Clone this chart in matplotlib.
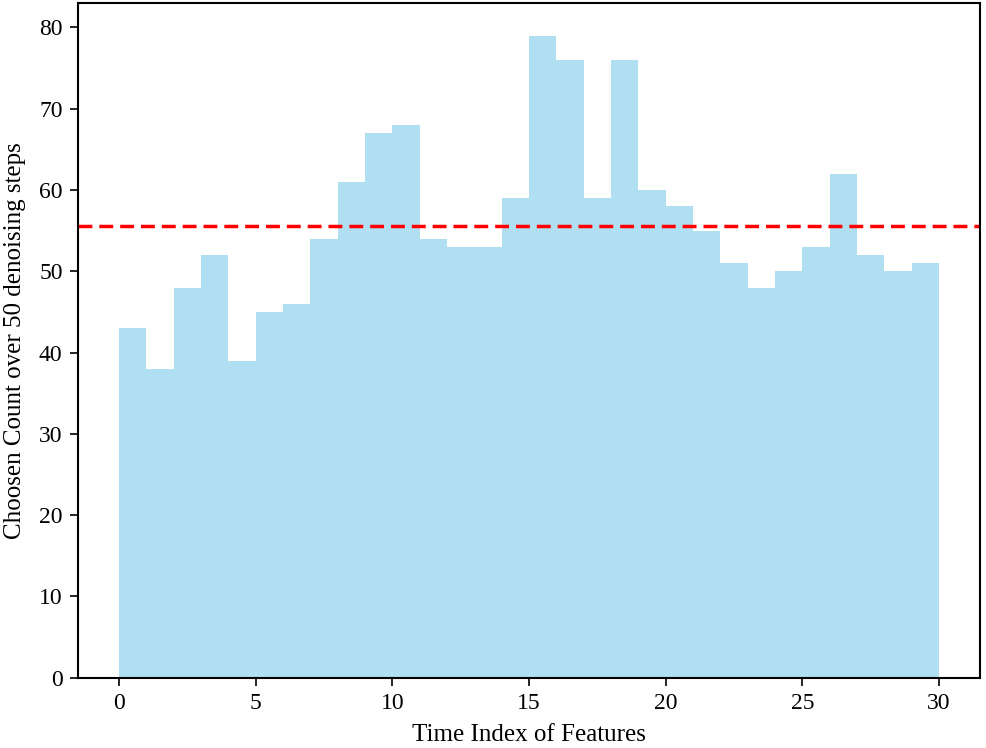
import numpy as np
import matplotlib.pyplot as plt

plt.rcParams['font.family'] = ['Liberation Serif', 'DejaVu Serif']
plt.rcParams['mathtext.fontset'] = 'stix'

# chosen count per time index (0..29)
time_index = np.arange(30)
counts = [43, 38, 48, 52, 39, 45, 46, 54, 61, 67,
          68, 54, 53, 53, 59, 79, 76, 59, 76, 60,
          58, 55, 51, 48, 50, 53, 62, 52, 50, 51]
mean_line = 55.6

fig = plt.figure(figsize=(9.86, 7.48), dpi=100)
ax = fig.add_axes([0.079, 0.094, 0.915, 0.902])

ax.bar(time_index, counts, width=1, align='edge', color='skyblue', alpha=0.65,
       linewidth=0)
ax.axhline(mean_line, color='#ff0000', linestyle='--', linewidth=2.5, dashes=(4, 2))

ax.set_xlim(-1.5, 31.5)
ax.set_ylim(0, 83)
ax.set_xticks(range(0, 31, 5))
ax.set_yticks(range(0, 81, 10))
ax.tick_params(labelsize=17, length=6, width=1.2, pad=5)
for s in ax.spines.values():
    s.set_linewidth(1.5)

ax.set_xlabel("Time Index of Features", fontsize=18, labelpad=7)
ax.set_ylabel("Choosen Count over 50 denoising steps", fontsize=18, labelpad=9)

fig.savefig("out.png", dpi=100)
